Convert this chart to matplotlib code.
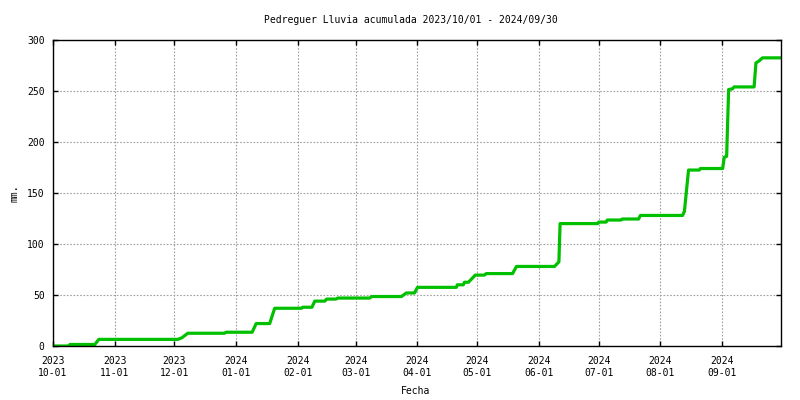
import matplotlib
matplotlib.use("Agg")
import matplotlib.pyplot as plt
import matplotlib.dates as mdates
import pandas as pd

# Cumulative rainfall breakpoints
fechas = [
    "2023-10-01 00:00", "2023-10-09 00:00", "2023-10-09 12:00", "2023-10-22 00:00",
    "2023-10-24 00:00", "2023-12-02 16:00", "2023-12-04 16:00", "2023-12-07 16:00",
    "2023-12-26 00:00", "2023-12-27 00:00", "2024-01-09 00:00", "2024-01-11 00:00",
    "2024-01-17 19:00", "2024-01-20 07:00", "2024-02-02 17:00", "2024-02-03 10:00",
    "2024-02-08 00:00", "2024-02-09 10:00", "2024-02-14 10:00", "2024-02-15 10:00",
    "2024-02-20 00:00", "2024-02-21 00:00", "2024-03-08 00:00", "2024-03-09 00:00",
    "2024-03-23 22:00", "2024-03-26 10:00", "2024-03-30 12:00", "2024-04-01 00:00",
    "2024-04-20 12:00", "2024-04-21 00:00", "2024-04-24 00:00", "2024-04-24 14:00",
    "2024-04-26 14:00", "2024-04-30 00:00", "2024-05-04 14:00", "2024-05-05 12:00",
    "2024-05-18 17:00", "2024-05-20 17:00", "2024-06-08 19:00", "2024-06-11 00:00",
    "2024-06-11 14:00", "2024-06-30 12:00", "2024-07-01 00:00", "2024-07-04 17:00",
    "2024-07-05 07:00", "2024-07-12 05:00", "2024-07-12 19:00", "2024-07-21 00:00",
    "2024-07-21 22:00", "2024-08-12 02:00", "2024-08-13 00:00", "2024-08-15 02:00",
    "2024-08-20 12:00", "2024-08-21 00:00", "2024-09-01 05:00", "2024-09-02 00:00",
    "2024-09-03 05:00", "2024-09-04 05:00", "2024-09-06 00:00", "2024-09-07 00:00",
    "2024-09-17 00:00", "2024-09-17 22:00", "2024-09-19 12:00", "2024-09-21 05:00",
    "2024-09-30 23:00",
]
lluvia_mm = [
    0, 0, 1.5, 1.5,
    6.5, 6.5, 8, 12.5,
    12.5, 13.5, 13.5, 22,
    22, 37, 37, 38,
    38, 44, 44, 46,
    46, 47, 47, 48.5,
    48.5, 52, 52, 57.5,
    57.5, 60, 60, 62.5,
    62.5, 69.5, 69.5, 71,
    71, 78, 78, 82.5,
    120, 120, 121.5, 121.5,
    123.5, 123.5, 124.5, 124.5,
    128, 128, 132, 172.5,
    172.5, 174, 174, 185,
    186, 251.5, 252, 254,
    254, 277.5, 279.5, 282.5,
    282.5,
]
tick_fechas = ["2023-10-01", "2023-11-01", "2023-12-01", "2024-01-01", "2024-02-01",
               "2024-03-01", "2024-04-01", "2024-05-01", "2024-06-01", "2024-07-01",
               "2024-08-01", "2024-09-01"]
y_ticks = [0, 50, 100, 150, 200, 250, 300]

x = pd.to_datetime(fechas)
xt = pd.to_datetime(tick_fechas)

plt.rcParams["font.family"] = ["DejaVu Sans Mono"]
plt.rcParams["font.size"] = 7

fig = plt.figure(figsize=(8, 4), dpi=100)
ax = fig.add_axes([53 / 800, 54 / 400, 728 / 800, 306 / 400])

ax.plot(x, lluvia_mm, color="#00c000", lw=2.3, solid_joinstyle="round")

ax.set_xlim(pd.Timestamp("2023-10-01"), pd.Timestamp("2024-09-30 12:00"))
ax.set_ylim(0, 300)
ax.set_xticks(xt)
ax.set_xticklabels([d.strftime("%Y\n%m-%d") for d in xt], linespacing=1.25)
ax.set_yticks(y_ticks)

ax.grid(True, color="#a0a0a0", linestyle=(0, (1.5, 1.5)), lw=0.8)
ax.tick_params(direction="in", length=3.5, width=1, top=True, right=True,
               labelsize=7, colors="black", pad=6)
ax.tick_params(axis="x", pad=7)
for s in ax.spines.values():
    s.set_linewidth(1)
    s.set_color("black")

fig.text(411 / 800, 1 - 20 / 400, "Pedreguer Lluvia acumulada 2023/10/01 - 2024/09/30",
         ha="center", va="center", fontsize=7)
fig.text(416 / 800, 1 - 391 / 400, "Fecha", ha="center", va="center", fontsize=7)
fig.text(14 / 800, 1 - 193 / 400, "mm.", ha="center", va="center", rotation=90, fontsize=7)

fig.savefig("out.png", dpi=100)
